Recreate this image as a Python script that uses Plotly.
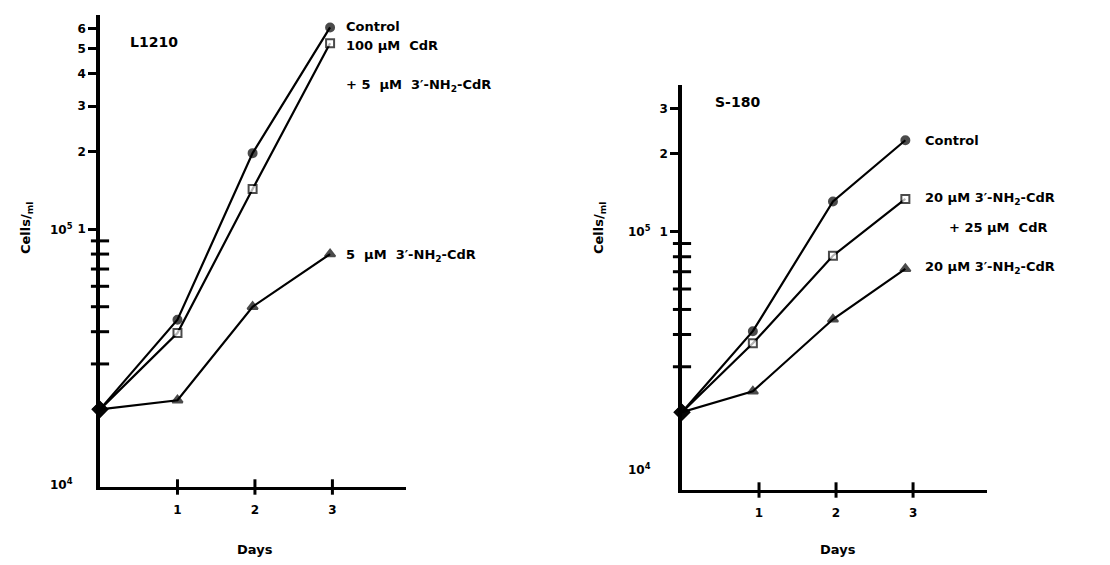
import plotly.graph_objects as go

# page has a small body margin; figure is sized to fit inside the window
OFFX, OFFY = 6, 8
W, H = 1110 - 16, 565 - 16

# ---------------- data ----------------
left_days = [0, 1, 1.97, 2.97]
left_control = [2.0e4, 4.45e4, 1.97e5, 6.05e5]
left_cdr_plus = [2.0e4, 3.95e4, 1.43e5, 5.25e5]
left_nh2 = [2.0e4, 2.17e4, 5.0e4, 8.0e4]

right_days = [0, 0.92, 1.96, 2.9]
right_control = [2.0e4, 4.12e4, 1.31e5, 2.26e5]
right_nh2_plus = [2.0e4, 3.7e4, 8.07e4, 1.34e5]
right_nh2 = [2.0e4, 2.41e4, 4.58e4, 7.18e4]

day_ticks = [1, 2, 3]
day_tick_labels = ["1", "2", "3"]
left_major_vals = [1e5, 2e5, 3e5, 4e5, 5e5, 6e5]
left_major_text = ["1", "2", "3", "4", "5", "6"]
right_major_vals = [1e5, 2e5, 3e5]
right_major_text = ["1", "2", "3"]
minor_vals = [3e4, 4e4, 5e4, 6e4, 7e4, 8e4, 9e4]

FONT = "DejaVu Sans"


def fx(x):
    return (x - OFFX) / W


def fy(y):
    return 1 - (y - OFFY) / H


fig = go.Figure()


def add_series(xs, ys, xa, ya, kind):
    n = len(xs)
    if kind == "circle":
        sym = ["diamond"] + ["circle"] * (n - 1)
        col = ["black"] * n
        size = [11] + [8] * (n - 1)
    elif kind == "square":
        sym = ["diamond"] + ["square"] * (n - 1)
        col = ["black"] + ["white"] * (n - 1)
        size = [11] + [8] * (n - 1)
    else:
        sym = ["diamond"] + ["triangle-up"] * (n - 1)
        col = ["black"] * n
        size = [11] + [9] * (n - 1)
    fig.add_trace(go.Scatter(
        x=xs, y=ys, xaxis=xa, yaxis=ya, mode="lines+markers",
        line=dict(color="black", width=2.2),
        marker=dict(symbol=sym, color=col, size=size,
                    line=dict(color="black", width=2)),
        showlegend=False, hoverinfo="skip", cliponaxis=False))


def add_cross_ticks(xa, ya):
    fig.add_trace(go.Scatter(
        x=[0] * len(minor_vals), y=minor_vals, xaxis=xa, yaxis=ya,
        mode="markers",
        marker=dict(symbol="line-ew", size=13, color="black",
                    line=dict(color="black", width=3)),
        showlegend=False, hoverinfo="skip", cliponaxis=False))
    fig.add_trace(go.Scatter(
        x=day_ticks, y=[1e4] * len(day_ticks), xaxis=xa, yaxis=ya,
        mode="markers",
        marker=dict(symbol="line-ns", size=11, color="black",
                    line=dict(color="black", width=3)),
        showlegend=False, hoverinfo="skip", cliponaxis=False))


add_series(left_days, left_control, "x", "y", "circle")
add_series(left_days, left_cdr_plus, "x", "y", "square")
add_series(left_days, left_nh2, "x", "y", "triangle")
add_cross_ticks("x", "y")

add_series(right_days, right_control, "x2", "y2", "circle")
add_series(right_days, right_nh2_plus, "x2", "y2", "square")
add_series(right_days, right_nh2, "x2", "y2", "triangle")
add_cross_ticks("x2", "y2")

xcommon = dict(showline=True, linewidth=3, linecolor="black", showgrid=False,
               zeroline=False, ticks="", tickvals=day_ticks,
               ticktext=["<b>%s</b>" % t for t in day_tick_labels],
               tickfont=dict(family=FONT, size=12, color="black"),
               ticklabelstandoff=10)
ycommon = dict(type="log", showline=True, linewidth=3.5, linecolor="black",
               showgrid=False, zeroline=False, ticks="outside", ticklen=8,
               tickwidth=2.5, tickcolor="black",
               tickfont=dict(family=FONT, size=12, color="black"))

fig.update_layout(
    width=W, height=H,
    margin=dict(l=0, r=0, t=0, b=0),
    paper_bgcolor="white", plot_bgcolor="white",
    xaxis=dict(domain=[fx(98), fx(404)], range=[0, 3.95], anchor="y", **xcommon),
    yaxis=dict(domain=[fy(487), fy(15)], range=[4, 5.83], anchor="x",
               tickvals=left_major_vals,
               ticktext=["<b>%s</b>" % t for t in left_major_text], **ycommon),
    xaxis2=dict(domain=[fx(680), fx(985)], range=[0, 3.96], anchor="y2", **xcommon),
    yaxis2=dict(domain=[fy(490), fy(85)], range=[4, 5.568], anchor="x2",
                tickvals=right_major_vals,
                ticktext=["<b>%s</b>" % t for t in right_major_text], **ycommon),
)


def ann(text, x, y, size=13, xanchor="left", angle=0):
    fig.add_annotation(text="<b>%s</b>" % text, x=fx(x), y=fy(y), xref="paper",
                       yref="paper", xanchor=xanchor, yanchor="middle",
                       showarrow=False, textangle=angle,
                       font=dict(family=FONT, size=size, color="black"))


NH2 = "3\u2032-NH<sub>2</sub>-CdR"

# left panel texts
ann("L1210", 152, 42, size=14, xanchor="center")
ann("Control", 342, 27)
ann("100 \u03bcM  CdR", 342, 45)
ann("+ 5  \u03bcM  " + NH2, 342, 85)
ann("5  \u03bcM  " + NH2, 342, 255)
ann("10<sup>5</sup>", 59, 229, size=12, xanchor="center")
ann("10<sup>4</sup>", 59, 484, size=12, xanchor="center")
ann("Cells/<sub>ml</sub>", 25, 228, xanchor="center", angle=-90)
ann("Days", 253, 549, xanchor="center")

# right panel texts
ann("S-180", 735, 102, size=14, xanchor="center")
ann("Control", 921, 140)
ann("20 \u03bcM " + NH2, 921, 198)
ann("+ 25 \u03bcM  CdR", 945, 227)
ann("20 \u03bcM " + NH2, 921, 268)
ann("10<sup>5</sup>", 637, 231, size=12, xanchor="center")
ann("10<sup>4</sup>", 637, 469, size=12, xanchor="center")
ann("Cells/<sub>ml</sub>", 598, 228, xanchor="center", angle=-90)
ann("Days", 836, 549, xanchor="center")

fig.write_html("out.html")
